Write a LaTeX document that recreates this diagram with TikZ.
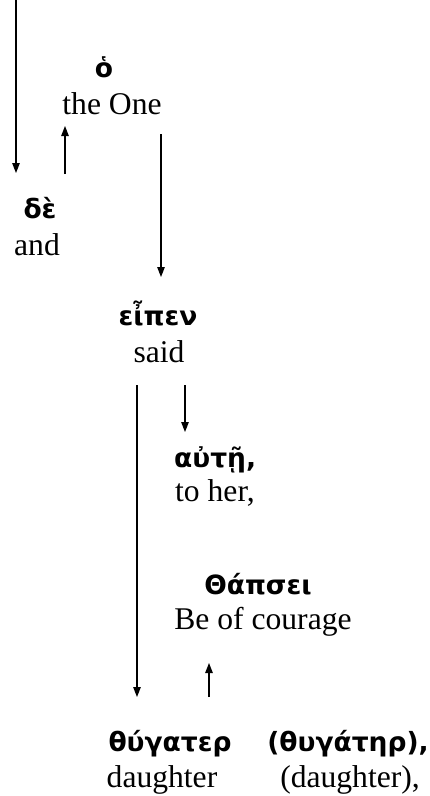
\documentclass[tikz,border=0pt]{standalone}
\usepackage{fontspec}
\setmainfont{Liberation Serif}
\newfontfamily\greekbold[Script=Greek]{DejaVu Sans Bold}
\usetikzlibrary{arrows.meta}
\newcommand{\enfnt}{\fontsize{31.6}{36}\selectfont}
\newcommand{\grfnt}{\greekbold\fontsize{26.5}{30}\selectfont}
\tikzset{
  en/.style={font=\enfnt, anchor=base, inner sep=0pt},
  gr/.style={font=\grfnt, anchor=base, inner sep=0pt},
  conn/.style={line width=1.3pt, -{Triangle[length=10pt,width=7.5pt]}},
}
\begin{document}
\begin{tikzpicture}[x=1pt,y=-1pt]
\useasboundingbox (0,0) rectangle (430,796);
% texts
\node[gr] (ho) at (104,77) {ὁ};
\node[en] (one) at (112,114) {the One};
\node[gr] (de) at (40,218) {δὲ};
\node[en] (and) at (37,255) {and};
\node[gr] (eipen) at (158,325) {εἶπεν};
\node[en] (said) at (159,362) {said};
\node[gr, anchor=base west] (aute) at (174,467) {αὐτῇ,};
\node[en, anchor=base west] (toher) at (175,501) {to her,};
\node[gr] (tharsei) at (258,594) {Θάπσει};
\node[en] (courage) at (263,629) {Be of courage};
\node[gr] (thugater) at (170,751) {θύγατερ};
\node[en] (daughter) at (162,787) {daughter};
\node[gr] (thugater2) at (348,751) {(θυγάτηρ),};
\node[en] (daughter2) at (350,787) {(daughter),};
% connector end points
\coordinate (a1s) at (16,0);   \coordinate (a1e) at (16,173);
\coordinate (a2s) at (65,174); \coordinate (a2e) at (65,126);
\coordinate (a3s) at (161,134);\coordinate (a3e) at (161,277);
\coordinate (a4s) at (137,385);\coordinate (a4e) at (137,697);
\coordinate (a5s) at (185,385);\coordinate (a5e) at (185,432);
\coordinate (a6s) at (209,697);\coordinate (a6e) at (209,663);
\draw[conn] (a1s) -- (a1e);
\draw[conn] (a2s) -- (a2e);
\draw[conn] (a3s) -- (a3e);
\draw[conn] (a4s) -- (a4e);
\draw[conn] (a5s) -- (a5e);
\draw[conn] (a6s) -- (a6e);
\end{tikzpicture}
\end{document}
